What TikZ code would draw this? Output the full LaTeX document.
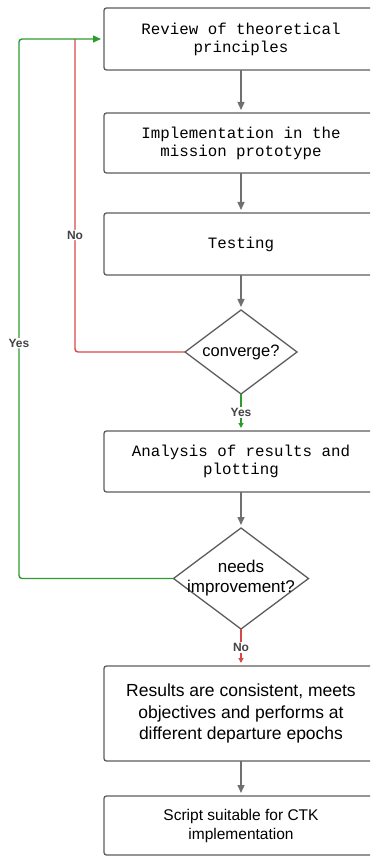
\documentclass[tikz,border=0pt]{standalone}
\usepackage{fontspec}
\setmainfont{Liberation Sans}
\setmonofont{Liberation Mono}
\usetikzlibrary{positioning,shapes.geometric,arrows.meta}
\definecolor{linegray}{HTML}{5C5C5C}
\definecolor{arrowgray}{HTML}{707070}
\definecolor{yesgreen}{HTML}{2E9B2E}
\definecolor{nored}{HTML}{D64848}
\definecolor{lblgray}{HTML}{444444}

\begin{document}
\begin{tikzpicture}[x=1pt, y=1pt,
  box/.style = {draw=linegray, line width=1.3pt, outer sep=0pt, rounded corners=2.5pt, minimum width=274pt, align=center},
  mono/.style = {font=\ttfamily\fontsize{15.8}{18}\selectfont},
  decision/.style = {draw=linegray, line width=1.3pt, outer sep=0pt, diamond, shape aspect=1.4, inner sep=0pt, align=center},
  flow/.style = {draw=arrowgray, line width=1.4pt, -{Triangle[length=8pt,width=7pt]}, shorten >=3pt},
  answer/.style = {fill=white, inner sep=1pt, font=\bfseries\fontsize{12}{14}\selectfont, text=lblgray}]
\clip (0,0) rectangle (370,-858);
\node[box, mono, minimum height=62pt] (1) at (241,-39) {Review of theoretical\\principles};
\node[box, mono, minimum height=60pt] (2)[below = 43pt of 1] {Implementation in the\\mission prototype};
\node[box, mono, minimum height=62pt] (3)[below = 40pt of 2] {Testing};
\node[decision, minimum width=112pt, minimum height=84pt, font=\fontsize{16.5}{20}\selectfont] (4)[below = 35pt of 3] {converge?};
\node[box, mono, minimum height=61pt] (5)[below = 37pt of 4] {Analysis of results and\\plotting};
\node[decision, minimum width=135pt, minimum height=101pt,
  label={[align=center, font=\fontsize{17}{20}\selectfont]center:{needs\\improvement?}}] (6)[below = 36pt of 5] {};
\node[box, minimum height=95pt, font=\fontsize{17.5}{21.5}\selectfont] (7)[below = 37pt of 6] {Results are consistent, meets\\objectives and performs at\\different departure epochs};
\node[box, minimum height=59pt, font=\fontsize{15.5}{19}\selectfont] (8)[below = 35pt of 7] {Script suitable for CTK\\implementation};
\coordinate (g) at (19,-39);
\coordinate (r) at (75,-39);
\draw[flow] (1) -- (2);
\draw[flow] (2) -- (3);
\draw[flow] (3) -- (4);
\draw[flow] (5) -- (6);
\draw[flow] (7) -- (8);
\draw[yesgreen, line width=1.4pt, -{Triangle[length=5pt,width=5pt]}, shorten >=3pt] (4.south) -- node[answer] {Yes} (5.north);
\draw[nored, line width=1.4pt, -{Triangle[length=5pt,width=5pt]}, shorten >=3pt] (6.south) -- node[answer] {No} (7.north);
\draw[nored, line width=1.4pt, rounded corners=3pt] (4.west) -| node[answer, pos=0.687] {No} (r);
\draw[yesgreen, line width=1.4pt, rounded corners=3pt, -{Triangle[length=8pt,width=7pt]}, shorten >=3pt] (6.west) -| node[answer, pos=0.718] {Yes} (g) -- (1.west);
\end{tikzpicture}
\end{document}
